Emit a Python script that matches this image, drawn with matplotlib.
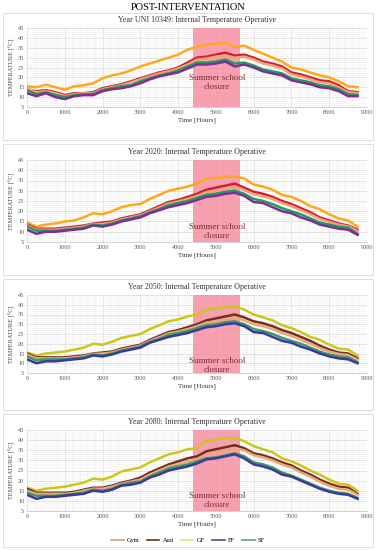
import numpy as np
import matplotlib.pyplot as plt
from matplotlib.patches import Rectangle
from matplotlib.ticker import MultipleLocator

plt.rcParams['font.family'] = ['Liberation Serif', 'DejaVu Serif']

# hours (every 250 h)
hours = list(range(0, 8751, 250))

titles = ["Year UNI 10349: Internal Temperature Operative",
          "Year 2020: Internal Temperature Operative",
          "Year 2050: Internal Temperature Operative",
          "Year 2080: Internal Temperature Operative"]

# ---- UNI 10349
uni_gf = [15.5, 15.0, 16.3, 15.0, 13.8, 15.5, 16.0, 17.0, 19.5, 21.0, 22.0, 23.5,
          25.5, 27.0, 28.5, 30.0, 31.5, 34.0, 35.5, 36.5, 37.0, 37.5, 35.5, 36.0,
          34.0, 32.0, 30.0, 28.0, 25.0, 24.0, 22.5, 21.0, 20.0, 18.0, 15.5, 15.0]
uni_aud = [14.0, 13.0, 13.5, 12.5, 11.0, 12.0, 12.0, 12.5, 14.5, 15.5, 16.5, 18.0,
           19.5, 21.0, 22.5, 23.5, 25.0, 27.5, 30.0, 30.5, 31.5, 32.5, 31.0, 31.5,
           30.0, 28.0, 27.0, 25.5, 22.5, 21.5, 20.0, 18.5, 18.0, 16.0, 13.0, 12.5]
uni_gym = [14.5, 12.5, 13.0, 12.0, 10.5, 11.5, 12.0, 12.0, 14.0, 15.0, 16.0, 17.5,
           19.0, 20.5, 22.0, 23.0, 24.5, 26.5, 29.0, 29.5, 30.5, 31.0, 30.0, 30.5,
           29.0, 27.0, 26.0, 24.5, 21.5, 20.5, 19.0, 17.5, 17.0, 15.0, 12.5, 12.0]
uni_sf = [13.5, 11.5, 12.5, 11.0, 10.0, 11.0, 11.5, 11.5, 13.5, 14.5, 15.5, 16.0,
          18.0, 19.5, 21.0, 22.0, 23.5, 25.5, 27.5, 27.5, 28.0, 29.0, 27.0, 27.5,
          26.0, 24.0, 23.0, 22.0, 19.5, 18.5, 17.5, 16.0, 15.5, 14.0, 11.5, 11.0]
uni_ff = [12.0, 10.5, 12.0, 10.0, 9.0, 10.5, 11.0, 11.0, 13.0, 14.0, 14.5, 15.5,
          17.0, 19.0, 20.5, 21.5, 22.5, 24.5, 26.5, 26.5, 27.0, 28.0, 25.5, 26.5,
          25.0, 23.0, 22.0, 21.0, 18.5, 17.5, 16.5, 15.0, 14.5, 13.0, 10.5, 10.5]

# ---- 2020
y20_gf = [14.5, 12.5, 13.5, 14.0, 15.0, 15.5, 17.0, 19.0, 18.5, 20.0, 22.0, 23.0,
          23.5, 26.0, 28.0, 30.0, 31.0, 32.0, 33.5, 36.0, 36.0, 37.0, 37.0, 36.0,
          33.0, 32.0, 30.5, 28.0, 27.0, 25.0, 22.5, 21.0, 18.5, 16.5, 15.5, 12.5]
y20_aud = [13.5, 11.5, 11.5, 11.5, 12.0, 12.5, 13.0, 14.0, 14.5, 15.0, 16.5, 17.5,
           18.5, 20.5, 22.5, 24.5, 25.5, 27.0, 28.5, 30.5, 31.5, 32.5, 33.5, 31.5,
           29.5, 28.5, 27.0, 25.0, 23.5, 21.5, 19.5, 17.0, 15.5, 14.0, 13.0, 11.0]
y20_gym = [13.0, 11.0, 11.0, 11.0, 11.5, 12.0, 12.5, 13.8, 13.8, 14.5, 16.0, 17.0,
           18.0, 20.0, 21.8, 23.8, 24.8, 26.0, 27.5, 29.3, 30.0, 31.0, 32.0, 30.3,
           28.3, 27.3, 26.0, 24.0, 22.5, 20.5, 18.5, 16.2, 14.8, 13.4, 12.6, 10.4]
y20_sf = [12.5, 10.5, 10.5, 10.5, 11.0, 11.5, 12.0, 13.5, 13.0, 14.0, 15.5, 16.5,
          17.5, 19.5, 21.0, 23.0, 24.0, 25.0, 26.5, 28.0, 28.5, 29.5, 30.0, 28.5,
          26.0, 25.0, 23.5, 21.5, 20.0, 18.5, 16.5, 14.5, 13.5, 12.5, 12.0, 9.0]
y20_ff = [11.0, 9.0, 10.0, 10.0, 10.5, 11.0, 11.5, 13.0, 12.5, 13.5, 15.0, 16.0,
          17.0, 19.0, 20.5, 22.0, 23.0, 24.0, 25.5, 27.0, 27.5, 28.5, 29.0, 27.5,
          24.5, 24.0, 22.0, 20.0, 19.0, 17.0, 15.5, 13.5, 12.5, 11.5, 11.0, 8.5]

# ---- 2050
y50_gf = [15.5, 14.0, 15.0, 15.5, 16.0, 17.0, 18.0, 20.0, 19.5, 21.0, 23.0, 24.0,
          25.0, 27.5, 29.5, 31.5, 32.5, 34.0, 35.0, 37.5, 38.0, 39.0, 39.0, 37.5,
          35.0, 33.5, 32.0, 29.5, 28.0, 26.0, 23.5, 22.0, 19.5, 17.5, 17.0, 14.0]
y50_aud = [15.0, 13.0, 13.0, 13.0, 13.0, 13.5, 14.0, 15.0, 15.5, 16.0, 17.5, 18.5,
           19.5, 22.0, 24.0, 26.0, 27.0, 28.5, 30.0, 32.0, 33.0, 34.0, 35.0, 33.5,
           31.5, 30.5, 29.0, 27.0, 25.5, 23.5, 21.5, 19.0, 17.0, 15.5, 15.0, 12.5]
y50_gym = [14.5, 12.5, 12.5, 12.5, 12.5, 13.0, 13.5, 14.8, 15.0, 15.5, 17.0, 18.0,
           19.0, 21.5, 23.3, 25.3, 26.3, 27.5, 29.0, 30.8, 31.5, 32.5, 33.3, 32.0,
           30.0, 29.0, 27.5, 25.5, 24.0, 22.0, 20.0, 17.8, 16.0, 14.8, 14.2, 11.8]
y50_sf = [13.5, 11.5, 12.0, 12.0, 12.0, 12.5, 13.0, 14.5, 14.0, 15.0, 16.5, 17.5,
          18.5, 21.0, 22.5, 24.5, 25.5, 26.5, 28.0, 29.5, 30.0, 31.0, 31.5, 30.0,
          27.5, 26.5, 25.0, 23.0, 21.5, 20.0, 18.0, 16.0, 14.5, 13.5, 13.0, 10.5]
y50_ff = [12.0, 10.0, 11.0, 11.0, 11.5, 12.0, 12.5, 14.0, 13.5, 14.5, 16.0, 17.0,
          18.0, 20.5, 22.0, 23.5, 24.5, 25.5, 27.0, 28.5, 29.0, 30.0, 30.5, 29.0,
          26.0, 25.5, 23.5, 21.5, 20.5, 18.5, 17.0, 15.0, 13.5, 12.5, 12.0, 10.0]

# ---- 2080
y80_gf = [16.5, 15.0, 16.0, 16.5, 17.0, 18.0, 19.0, 21.0, 20.5, 22.0, 24.5, 25.5,
          26.5, 29.0, 31.0, 33.0, 34.0, 35.5, 36.0, 39.5, 40.0, 41.0, 41.0, 39.5,
          37.0, 35.5, 34.0, 31.0, 29.5, 27.5, 25.0, 23.0, 20.5, 18.5, 18.0, 15.0]
y80_aud = [16.0, 14.0, 14.0, 14.0, 14.0, 14.5, 15.5, 16.5, 16.5, 17.5, 19.0, 20.0,
           21.5, 24.0, 26.0, 28.0, 29.5, 31.0, 32.0, 34.5, 35.5, 36.5, 37.5, 36.0,
           33.5, 32.5, 31.0, 29.0, 27.5, 25.0, 23.0, 20.5, 18.5, 17.0, 16.5, 13.5]
y80_gym = [15.0, 13.5, 13.5, 13.5, 13.5, 14.0, 15.0, 16.0, 16.0, 17.0, 18.5, 19.5,
           20.5, 23.0, 25.0, 27.0, 28.0, 29.5, 30.5, 33.0, 34.0, 35.0, 36.0, 35.0,
           32.5, 31.5, 30.0, 28.0, 26.5, 24.0, 22.0, 19.5, 17.5, 16.0, 15.5, 13.0]
y80_sf = [14.0, 12.5, 12.5, 12.5, 13.0, 13.5, 14.0, 15.5, 15.0, 16.0, 18.0, 19.0,
          19.5, 22.0, 24.0, 26.0, 27.0, 28.0, 29.5, 31.0, 31.5, 32.5, 33.5, 32.0,
          29.0, 28.0, 26.5, 24.0, 22.5, 20.5, 18.5, 16.5, 15.0, 14.0, 13.5, 11.5]
y80_ff = [13.0, 11.0, 12.0, 12.0, 12.5, 13.0, 13.5, 15.0, 14.5, 15.5, 17.5, 18.0,
          19.0, 21.5, 23.0, 25.0, 26.0, 27.0, 28.5, 30.5, 31.0, 32.0, 33.0, 31.0,
          28.0, 27.0, 25.5, 23.0, 22.0, 20.0, 18.0, 16.0, 14.5, 13.5, 13.0, 11.0]

panels = [
    [uni_gym, uni_aud, uni_gf, uni_ff, uni_sf],
    [y20_gym, y20_aud, y20_gf, y20_ff, y20_sf],
    [y50_gym, y50_aud, y50_gf, y50_ff, y50_sf],
    [y80_gym, y80_aud, y80_gf, y80_ff, y80_sf],
]
names = ["Gym", "Aud", "GF", "FF", "SF"]
colors_a = ["#f7a07a", "#d0202e", "#ffa81a", "#7e2e96", "#1aa15e"]
colors_b = ["#eba77a", "#7a2a20", "#c9c81a", "#3a3a9e", "#3c9a62"]
legend_colors = ["#d9a070", "#6e2a1c", "#e4e46a", "#4e4ea0", "#5fa07c"]

closure = (4400, 5650)
text_y = [17.5, 10.0, 8.8, 10.0]

W, H = 376, 550
fig = plt.figure(figsize=(W / 100, H / 100), dpi=100)

# panel boxes (pixel coords, from top)
boxes = [(13, 140), (144, 275), (279, 410), (414, 547)]
for top, bot in boxes:
    fig.patches.append(Rectangle((3 / W, 1 - bot / H), 370 / W, (bot - top) / H,
                                 transform=fig.transFigure, fill=False,
                                 edgecolor="#d9d9d9", lw=0.6))

fig.text(0.5, 1 - 7 / H, "POST-INTERVENTATION", ha="center", va="center", fontsize=7.5)

axes_px = [(28, 107), (160, 242), (295, 373), (430, 511)]
for i, (top, bot) in enumerate(axes_px):
    ax = fig.add_axes([27 / W, 1 - bot / H, 340 / W, (bot - top) / H])
    cols = colors_a if i < 2 else colors_b
    ax.axvspan(closure[0], closure[1], color="#f58a9e", alpha=0.8, lw=0, zorder=1)
    order = [2, 1, 0, 4, 3]
    for k in order:
        ax.plot(hours, panels[i][k], color=cols[k], lw=1.8, zorder=3)
    ax.text(sum(closure) / 2, text_y[i], "Summer school\nclosure", ha="center",
            va="center", fontsize=6.5, color="#7d2f36", zorder=4)
    ax.set_xlim(0, 9000)
    ax.set_ylim(5, 45)
    ax.xaxis.set_major_locator(MultipleLocator(1000))
    ax.xaxis.set_minor_locator(MultipleLocator(200))
    ax.yaxis.set_major_locator(MultipleLocator(5))
    ax.yaxis.set_minor_locator(MultipleLocator(1))
    ax.grid(which="major", color="#d6d6d6", lw=0.5, zorder=0)
    ax.grid(which="minor", color="#efefef", lw=0.4, zorder=0)
    ax.set_axisbelow(True)
    for s in ["top", "right", "left"]:
        ax.spines[s].set_visible(False)
    ax.spines["bottom"].set_color("#bfbfbf")
    ax.spines["bottom"].set_linewidth(0.5)
    ax.tick_params(which="both", length=0, labelsize=4.5, colors="#555555", pad=2)
    ax.set_title(titles[i], fontsize=5.8, pad=4, color="#333333")
    ax.set_xlabel("Time [Hours]", fontsize=5, labelpad=2, color="#333333")
    ax.set_ylabel("TEMPERATURE [°C]", fontsize=4.5, labelpad=2, color="#444444")

handles = [plt.Line2D([], [], color=c, lw=1.2) for c in legend_colors]
fig.legend(handles, names, loc="center", bbox_to_anchor=(0.5, 1 - 540 / H), ncol=5,
           frameon=False, fontsize=4.5, handlelength=2.0, columnspacing=1.2,
           handletextpad=0.5)

fig.savefig("out.png", dpi=100, facecolor="white")
